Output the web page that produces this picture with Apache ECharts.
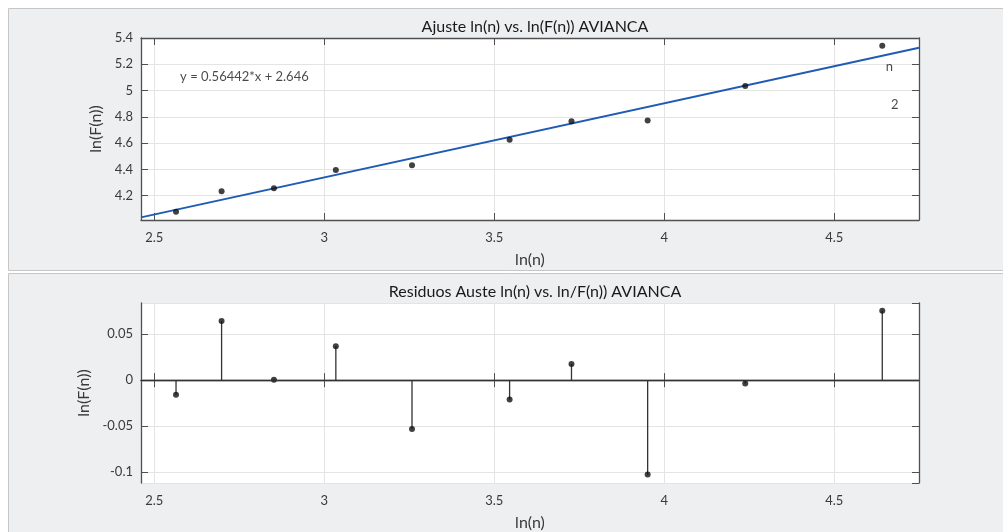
<!DOCTYPE html>
<html>
<head>
<meta charset="utf-8">
<title>Ajuste ln(n) vs. ln(F(n)) AVIANCA</title>
<script src="https://cdn.jsdelivr.net/npm/echarts@6/dist/echarts.min.js"></script>
<style>
  html, body { margin: 0; padding: 0; background: #fff; }
  #chart { width: 1003px; height: 532px; }
</style>
</head>
<body>
<div id="chart"></div>
<script>
// puntos medidos
const lnN = [2.564, 2.698, 2.852, 3.034, 3.258, 3.545, 3.727, 3.951, 4.238, 4.641];
const lnF = [4.077, 4.233, 4.256, 4.396, 4.432, 4.626, 4.767, 4.773, 5.034, 5.341];
const residuos = [-0.0159, 0.0644, 0.0005, 0.037, -0.0533, -0.021, 0.0176, -0.1027, -0.0037, 0.0756];

// recta de ajuste (extremos del eje)
const fitX = [2.461, 4.749];
const fitY = [4.035, 5.326];

const xRange = [2.461, 4.749];
const yRangeFit = [4.015, 5.4];
const yRangeRes = [-0.112, 0.084];

const FONT = 'Lato';
const BOX = '#505050';
const GRID = '#e4e4e4';
const TXT = '#3a3a3a';

const chart = echarts.init(document.getElementById('chart'));

function mainX(gridIndex) {
  return {
    type: 'value', gridIndex, position: 'bottom',
    min: xRange[0], max: xRange[1], splitNumber: 5,
    name: 'ln(n)', nameLocation: 'middle', nameGap: 32,
    nameTextStyle: { fontFamily: FONT, fontSize: 16, color: TXT },
    axisLine: { show: true, lineStyle: { color: BOX, width: 1.3 } },
    axisTick: { show: true, inside: true, length: 7, lineStyle: { color: BOX } },
    axisLabel: { fontFamily: FONT, fontSize: 13, color: TXT, margin: 11, showMinLabel: false, showMaxLabel: false },
    splitLine: { show: true, lineStyle: { color: GRID } }
  };
}

function mirrorX(gridIndex) {
  return {
    type: 'value', gridIndex, position: 'top',
    min: xRange[0], max: xRange[1], splitNumber: 5,
    axisLine: { show: true, lineStyle: { color: BOX, width: 1.3 } },
    axisTick: { show: true, inside: true, length: 7, lineStyle: { color: BOX } },
    axisLabel: { show: false },
    splitLine: { show: false }
  };
}

function mainY(gridIndex, range, split, gap, showMax) {
  return {
    type: 'value', gridIndex, position: 'left',
    min: range[0], max: range[1], splitNumber: split,
    name: 'ln(F(n))', nameLocation: 'middle', nameGap: gap, nameRotate: 90,
    nameTextStyle: { fontFamily: FONT, fontSize: 16, color: TXT },
    axisLine: { show: true, lineStyle: { color: BOX, width: 1.3 } },
    axisTick: { show: true, inside: true, length: 7, lineStyle: { color: BOX } },
    axisLabel: { fontFamily: FONT, fontSize: 13, color: TXT, margin: 8, showMinLabel: false, showMaxLabel: showMax },
    splitLine: { show: true, lineStyle: { color: GRID } }
  };
}

function mirrorY(gridIndex, range, split) {
  return {
    type: 'value', gridIndex, position: 'right',
    min: range[0], max: range[1], splitNumber: split,
    axisLine: { show: true, lineStyle: { color: BOX, width: 1.3 } },
    axisTick: { show: true, inside: true, length: 7, lineStyle: { color: BOX } },
    axisLabel: { show: false },
    splitLine: { show: false }
  };
}

const option = {
  backgroundColor: '#ffffff',
  animation: false,
  graphic: [
    {
      type: 'rect', z: -10, silent: true,
      shape: { x: 8.5, y: 8.5, width: 1000, height: 262 },
      style: { fill: '#eeeff1', stroke: '#c6c6c6', lineWidth: 1 }
    },
    {
      type: 'rect', z: -10, silent: true,
      shape: { x: 8.5, y: 273.5, width: 1000, height: 270 },
      style: { fill: '#eeeff1', stroke: '#c6c6c6', lineWidth: 1 }
    }
  ],
  title: [
    {
      text: 'Ajuste ln(n) vs. ln(F(n)) AVIANCA',
      left: 530, top: 14, textAlign: 'center',
      textStyle: { fontFamily: FONT, fontSize: 16, fontWeight: 'normal', color: '#1a1a1a' }
    },
    {
      text: 'Residuos Auste ln(n) vs. ln/F(n)) AVIANCA',
      left: 530, top: 279, textAlign: 'center',
      textStyle: { fontFamily: FONT, fontSize: 16, fontWeight: 'normal', color: '#1a1a1a' }
    }
  ],
  grid: [
    { left: 141, top: 38, width: 778, height: 182, backgroundColor: '#fff', show: true, borderWidth: 0 },
    { left: 141, top: 303, width: 778, height: 182, backgroundColor: '#fff', show: true, borderWidth: 0 }
  ],
  xAxis: [mainX(0), mirrorX(0), mainX(1), mirrorX(1)],
  yAxis: [
    mainY(0, yRangeFit, 7, 32, true), mirrorY(0, yRangeFit, 7),
    mainY(1, yRangeRes, 4, 46, false), mirrorY(1, yRangeRes, 4)
  ],
  series: [
    {
      name: 'ajuste', type: 'line', xAxisIndex: 0, yAxisIndex: 0,
      data: fitX.map((x, i) => [x, fitY[i]]),
      symbol: 'none',
      lineStyle: { color: '#1f5bb5', width: 2 },
      z: 3
    },
    {
      name: 'datos', type: 'scatter', xAxisIndex: 0, yAxisIndex: 0,
      data: lnN.map((x, i) => [x, lnF[i]]),
      symbolSize: 6,
      itemStyle: { color: '#111' },
      z: 4
    },
    {
      name: 'textos', type: 'scatter', xAxisIndex: 0, yAxisIndex: 0,
      symbolSize: 0, silent: true,
      data: [
        { value: [2.576, 5.105], label: { formatter: 'y = 0.56442*x + 2.646', position: 'right', distance: 0 } },
        { value: [4.662, 5.184], label: { formatter: 'n', position: 'inside' } },
        { value: [4.678, 4.889], label: { formatter: '2', position: 'inside' } }
      ],
      label: { show: true, fontFamily: FONT, fontSize: 13, color: '#1a1a1a' }
    },
    {
      name: 'tallos', type: 'custom', xAxisIndex: 2, yAxisIndex: 2,
      data: lnN.map((x, i) => [x, residuos[i]]),
      renderItem: (params, api) => {
        const p0 = api.coord([api.value(0), 0]);
        const p1 = api.coord([api.value(0), api.value(1)]);
        return {
          type: 'line',
          shape: { x1: p0[0], y1: p0[1], x2: p1[0], y2: p1[1] },
          style: { stroke: '#333', lineWidth: 1.3 }
        };
      },
      z: 3
    },
    {
      name: 'residuos', type: 'scatter', xAxisIndex: 2, yAxisIndex: 2,
      data: lnN.map((x, i) => [x, residuos[i]]),
      symbolSize: 6,
      itemStyle: { color: '#111' },
      markLine: {
        silent: true, symbol: 'none',
        label: { show: false },
        lineStyle: { color: '#333', type: 'solid', width: 1.2 },
        data: [{ yAxis: 0 }]
      },
      z: 4
    }
  ]
};

chart.setOption(option);
</script>
</body>
</html>
